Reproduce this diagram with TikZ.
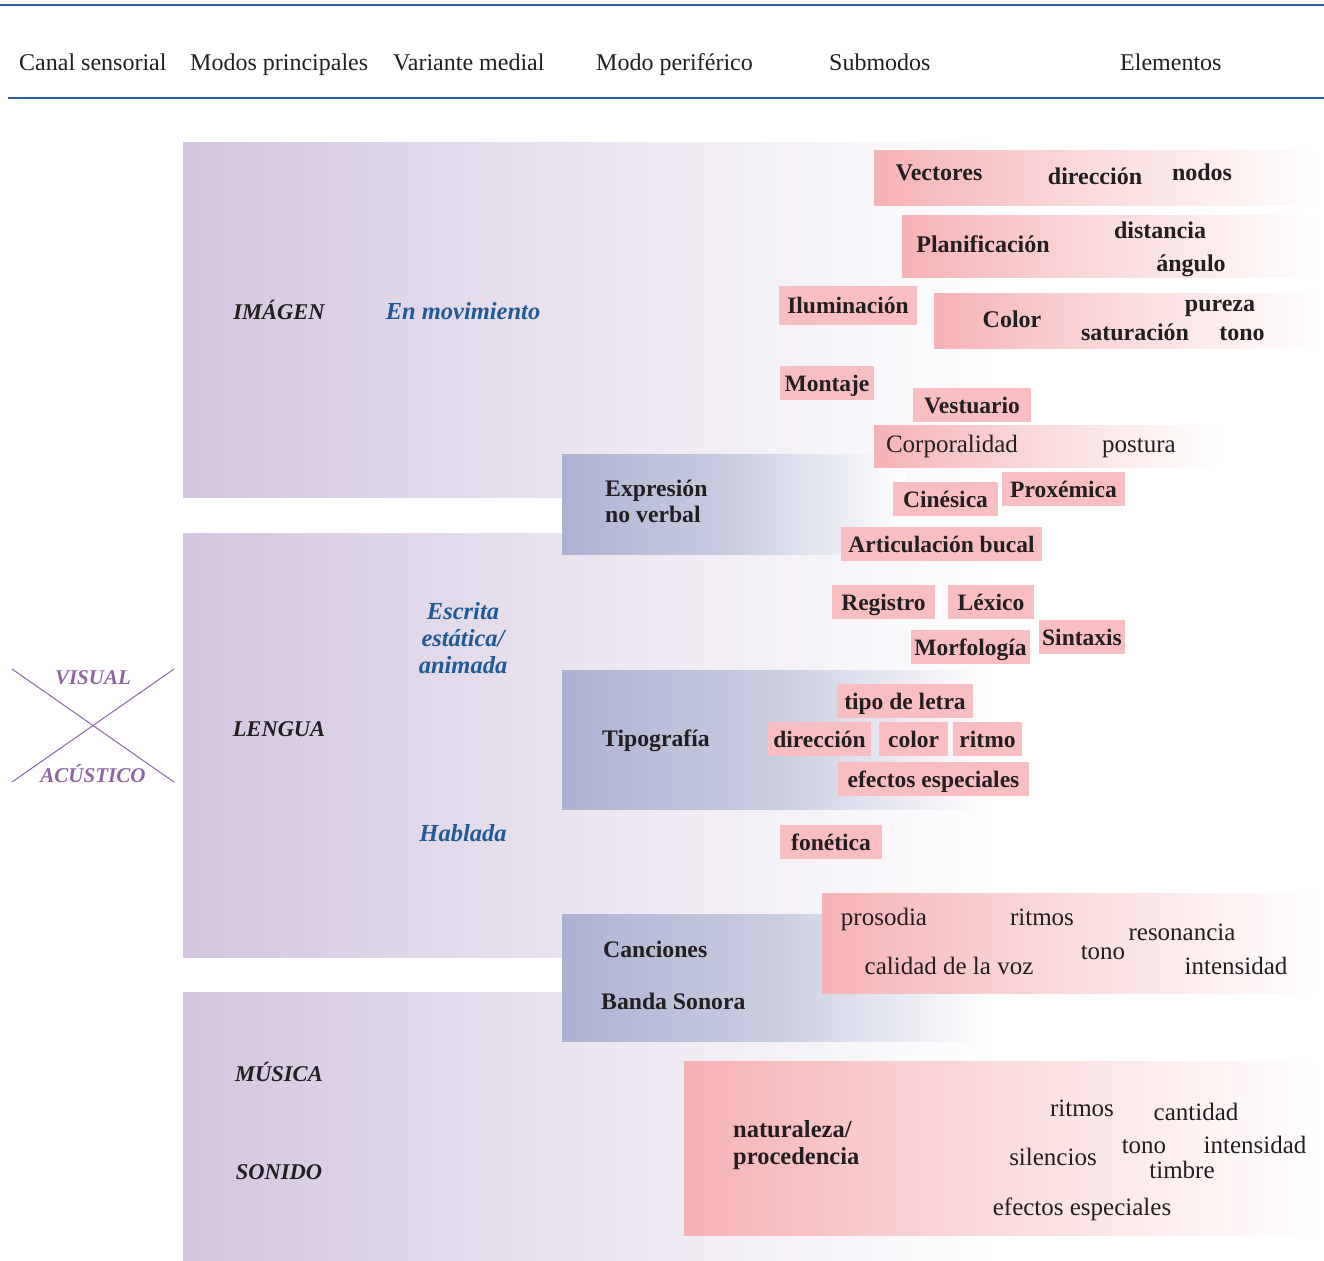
\documentclass[tikz,border=0pt]{standalone}
\usepackage{fontspec}
\setmainfont{Liberation Serif}
\begin{document}
\definecolor{lilac}{HTML}{D3C5DF}
\definecolor{periblue}{HTML}{ADB2D1}
\definecolor{tagpink}{HTML}{F8BEC1}
\definecolor{gradpink}{HTML}{F6B2B5}
\definecolor{ink}{HTML}{231F20}
\definecolor{variant}{HTML}{1F5B98}
\definecolor{channel}{HTML}{8E65A8}
\definecolor{rulecol}{HTML}{2F5E9E}
\begin{tikzpicture}[x=1pt,y=-1pt,
  every node/.style={inner sep=0pt, text=ink, font=\fontsize{24}{28}\selectfont,
    text height=16pt, text depth=0pt},
  multiline/.style={text height={}, text depth={}},
  head/.style={anchor=west, font=\fontsize{24}{28}\selectfont},
  mainmode/.style={font=\fontsize{22.5}{25}\selectfont\bfseries\itshape},
  variantlbl/.style={font=\fontsize{24.5}{27}\selectfont\bfseries\itshape, text=variant, align=center},
  chan/.style={font=\fontsize{21}{24}\selectfont\bfseries\itshape, text=channel, text height=14pt},
  peri/.style={font=\fontsize{23.7}{26}\selectfont\bfseries, anchor=west, align=left},
  tag/.style={fill=tagpink, font=\fontsize{23.5}{26}\selectfont\bfseries},
  elem/.style={font=\fontsize{25}{28}\selectfont},
  belem/.style={font=\fontsize{24}{27}\selectfont\bfseries},
  band/.style={left color=lilac, right color=white, middle color=lilac!45!white},
  periband/.style={left color=periblue, right color=white, middle color=periblue!65!white},
  pinkband/.style={left color=gradpink, right color=white, middle color=gradpink!45!white}
]
\useasboundingbox (0,0) rectangle (1324,1260);
\fill[white] (0,0) rectangle (1324,1260);

% header rules
\coordinate (r1a) at (0,5);   \coordinate (r1b) at (1324,5);
\coordinate (r2a) at (8,98);  \coordinate (r2b) at (1324,98);
\draw[rulecol, line width=1.6pt] (r1a) -- (r1b);
\draw[rulecol, line width=1.6pt] (r2a) -- (r2b);

% column headings
\node[head] (h1) at (19,63) {Canal sensorial};
\node[head] (h2) at (190,63) {Modos principales};
\node[head] (h3) at (393,63) {Variante medial};
\node[head] (h4) at (596,63) {Modo periférico};
\node[head] (h5) at (829,63) {Submodos};
\node[head] (h6) at (1120,63) {Elementos};

% main mode bands
\fill[band] (183,143) rectangle (1000,497);
\fill[band] (183,533) rectangle (1000,957);
\fill[band] (183,992) rectangle (1000,1260);

% peripheral mode bands
\fill[periband] (562,454) rectangle (905,554);
\fill[periband] (562,670) rectangle (990,809);
\fill[periband] (562,914) rectangle (990,1041);

% submode gradient bands
\fill[pinkband] (874,151) rectangle (1320,205);
\fill[pinkband] (902,215) rectangle (1320,277);
\fill[pinkband] (934,293) rectangle (1320,348);
\fill[pinkband] (874,425) rectangle (1220,467);
\fill[pinkband] (822,893) rectangle (1320,993);
\fill[pinkband] (684,1061) rectangle (1320,1235);

% sensory channel cross
\coordinate (xa) at (12,669);  \coordinate (xb) at (174,782);
\coordinate (xc) at (12,782);  \coordinate (xd) at (174,669);
\draw[channel, line width=1pt] (xa) -- (xb);
\draw[channel, line width=1pt] (xc) -- (xd);
\node[chan] (visual) at (93,677) {VISUAL};
\node[chan] (acustico) at (93,775) {ACÚSTICO};

% main modes
\node[mainmode] (imagen) at (279,311) {IMÁGEN};
\node[mainmode] (lengua) at (279,728) {LENGUA};
\node[mainmode] (musica) at (279,1073) {MÚSICA};
\node[mainmode] (sonido) at (279,1171) {SONIDO};

% medial variants
\node[variantlbl] (mov) at (463,311) {En movimiento};
\node[variantlbl, multiline] (escrita) at (463,638) {Escrita\\estática/\\animada};
\node[variantlbl] (hablada) at (463,833) {Hablada};

% peripheral modes
\node[peri, multiline] (expr) at (605,501) {Expresión\\no verbal};
\node[peri] (tipo) at (602,738) {Tipografía};
\node[peri] (canc) at (603,949) {Canciones};
\node[peri] (banda) at (601,1001) {Banda Sonora};

% image submodes and elements
\node[belem] (vect) at (939,173) {Vectores};
\node[belem] (vdir) at (1095,177) {dirección};
\node[belem] (nodos) at (1202,173) {nodos};
\node[belem] (plan) at (983,244) {Planificación};
\node[belem] (dist) at (1160,230) {distancia};
\node[belem] (ang) at (1191,263) {ángulo};
\node[belem] (colr) at (1012,319) {Color};
\node[belem] (pur) at (1220,303) {pureza};
\node[belem] (sat) at (1135,332) {saturación};
\node[belem] (ctono) at (1242,332) {tono};
\node[tag, minimum width=138pt, minimum height=39pt] (ilum) at (848,305.5) {Iluminación};
\node[tag, minimum width=94pt, minimum height=34pt] (mont) at (827,383) {Montaje};

% non-verbal expression
\node[tag, minimum width=118pt, minimum height=34pt] (vest) at (972,405) {Vestuario};
\node[elem] (corp) at (952,444) {Corporalidad};
\node[elem] (post) at (1139,444) {postura};
\node[tag, minimum width=105pt, minimum height=34pt] (cines) at (945.5,499) {Cinésica};
\node[tag, minimum width=123pt, minimum height=34pt] (prox) at (1063.5,489) {Proxémica};
\node[tag, minimum width=201pt, minimum height=34pt] (artic) at (941.5,544) {Articulación bucal};

% written language
\node[tag, minimum width=103pt, minimum height=34pt] (reg) at (883.5,602) {Registro};
\node[tag, minimum width=86pt, minimum height=34pt] (lex) at (991,602) {Léxico};
\node[tag, minimum width=119pt, minimum height=34pt] (morf) at (970.5,647) {Morfología};
\node[tag, minimum width=86pt, minimum height=34pt] (sint) at (1082,637) {Sintaxis};

% typography
\node[tag, minimum width=136pt, minimum height=34pt] (letra) at (905,701) {tipo de letra};
\node[tag, minimum width=103pt, minimum height=34pt] (tdir) at (819.5,739) {dirección};
\node[tag, minimum width=69pt, minimum height=34pt] (tcol) at (913.5,739) {color};
\node[tag, minimum width=69pt, minimum height=34pt] (trit) at (987.5,739) {ritmo};
\node[tag, minimum width=191pt, minimum height=34pt] (tefe) at (933.5,779) {efectos especiales};

% spoken language
\node[tag, minimum width=102pt, minimum height=34pt] (fon) at (831,842) {fonética};
\node[elem] (pros) at (884,917) {prosodia};
\node[elem] (hrit) at (1042,917) {ritmos};
\node[elem] (reso) at (1182,932) {resonancia};
\node[elem] (htono) at (1103,951) {tono};
\node[elem] (cali) at (949,966) {calidad de la voz};
\node[elem] (hint) at (1236,966) {intensidad};

% music and sound
\node[peri, multiline, align=left, font=\fontsize{24.5}{27}\selectfont\bfseries] (nat) at (733,1145) {naturaleza/\\procedencia};
\node[elem] (mrit) at (1082,1108) {ritmos};
\node[elem] (cant) at (1196,1112) {cantidad};
\node[elem] (mtono) at (1144,1145) {tono};
\node[elem] (mint) at (1255,1145) {intensidad};
\node[elem] (sil) at (1053,1157) {silencios};
\node[elem] (timb) at (1182,1170) {timbre};
\node[elem] (mefe) at (1082,1207) {efectos especiales};
\end{tikzpicture}
\end{document}
